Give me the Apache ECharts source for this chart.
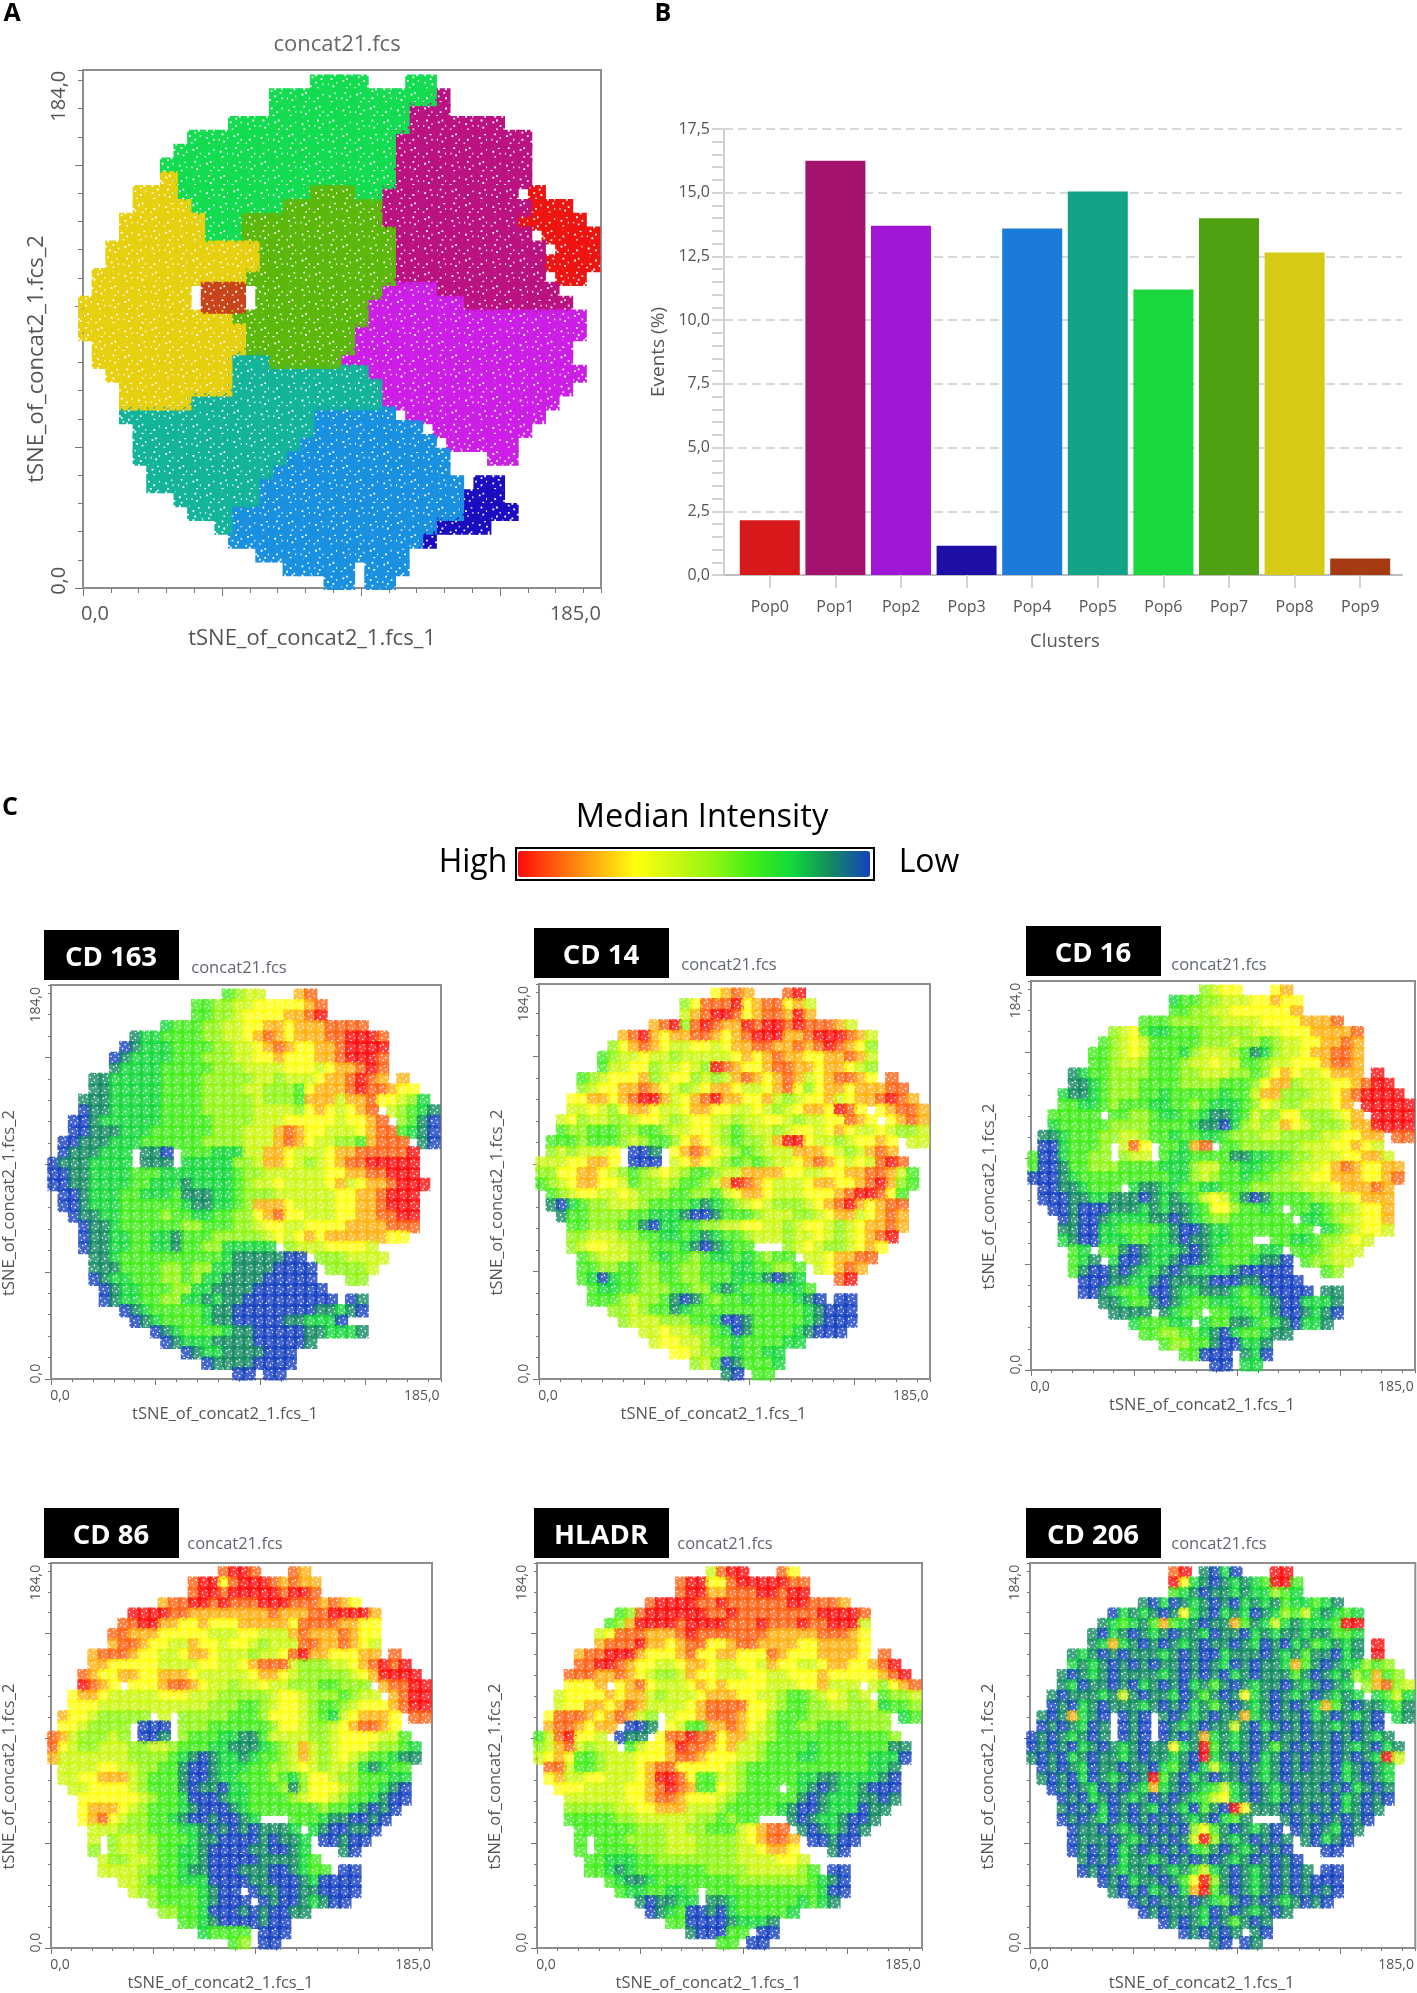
<!DOCTYPE html>
<html>
<head>
<meta charset="utf-8">
<title>tSNE clusters</title>
<script src="https://cdn.jsdelivr.net/npm/echarts@6/dist/echarts.min.js"></script>
<style>
  html, body { margin: 0; padding: 0; background: #fff; }
  #chart { width: 1417px; height: 1993px; }
</style>
</head>
<body>
<div id="chart"></div>
<script>
// bar chart values
const clusters = ['Pop0', 'Pop1', 'Pop2', 'Pop3', 'Pop4', 'Pop5', 'Pop6', 'Pop7', 'Pop8', 'Pop9'];
const events = [2.15, 16.25, 13.7, 1.15, 13.6, 15.05, 11.2, 14.0, 12.65, 0.65];
const barColors = ['#d7191b', '#a3136d', '#a216d8', '#1d0fa5', '#1a7bd8', '#13a386', '#19d73c', '#50a111', '#d6ca14', '#a63a12'];
const cloudColors = ['#ee1410', '#bb1282', '#cc1ee6', '#1a0cc0', '#1a90e0', '#14b49a', '#14dc50', '#5cb80c', '#e6d010', '#c8441a'];

// tSNE maps, one cell is 5 x 5 axis units, top row first.
// panel A: digit = population number
const popRows = [
  '.................6666...66',
  '..............6666666666661',
  '..............6666666666111',
  '...........66666666666661111111',
  '........6666666666666661111111111',
  '.......66666666666666661111111111',
  '......666666666666666661111111111',
  '......866666666666666661111111111',
  '....8886666666666777661111111111.0',
  '....88886666666777777711111111111000',
  '...8888886667777777777111111111100000',
  '...888888666777777777771111111111.00000',
  '..88888888888777777777711111111111.0000',
  '..888888888887777777777111111111110000',
  '.888888888887777777777711111111111.00',
  '.8888888.999.7777777772222111111111',
  '88888888.999.77777777222222211111111',
  '8888888888877777777772222222222222222',
  '8888888888887777777722222222222222222',
  '.88888888888777777772222222222222222',
  '.88888888885557777722222222222222222',
  '..88888888855555555552222222222222222',
  '...888888885555555555522222222222222',
  '...88888555555555555552222222222222',
  '...55555555555555444444.2222222222',
  '....555555555555544444444.2222222',
  '....5555555555554444444444.22222',
  '....55555555555444444444444...22',
  '.....5555555554444444444444',
  '.....55555555444444444444444.33',
  '.......555555444444444444444333',
  '........555444444444444444443333',
  '..........54444444444444443333',
  '...........444444444444443',
  '.............44444444444',
  '...............44444.444',
  '..................44.44'
];

// panels C: digit = median intensity, 0 low to 9 high
const cd163Rows = [
  '.................3455...78',
  '..............3344556666678',
  '..............3344566667789',
  '...........23334455667767778888',
  '........1223333445567876777889998',
  '.......01222333344556787667789999',
  '......012222333444556676667789998',
  '......122223333344455556665677898',
  '....11222223333444445545556778987.7',
  '....11222223333444455444367778988766',
  '...1112222233334444454443777577866542',
  '...01122222333344444555546765678.54321',
  '..0012222223333344445556666656678.4310',
  '..001112223333334445557876655567883210',
  '.0011122233333344445557876554437888.10',
  '.0111222.110.33322255776555677888889',
  '01112222.111.22222445776545678899999',
  '001122223332222222344555555667788999',
  '0011222233222122223455655556756778999',
  '.00122233222311122344455555566778999',
  '.00122233333321122347776555566778999',
  '..0112233334332233446786655566778899',
  '...011233333344333445665566667777888',
  '...01122332213334444456567677777766',
  '...0112233221334422222.455566665',
  '....112333333333321111100.4445555',
  '....1113333443442211110000.44445',
  '....0122333443422111100000...44',
  '.....0122333442211110000000',
  '.....01223344221211000000000.01',
  '.......012333332110000000011210',
  '........012333321100000112220',
  '..........012333321100000112221',
  '...........012221111000001',
  '.............01221111000',
  '...............011110000',
  '..................00.00'
];

const cd14Rows = [
  '.................6787...89',
  '..............4688896788675',
  '..............5789986788797',
  '...........78948987798998988875',
  '........7897677887678999778999875',
  '.......46787655665677887787898764',
  '......345565545555567678776677875',
  '......355664556549876678877677654',
  '....34566674566454578767875678876.8',
  '....45667787654567765567864677677788',
  '...6677678997567897766754566756778987',
  '...55654677655677665565456776986.67887',
  '..5645544566545665545566545566876.6787',
  '..344333443345566543455456656765565445',
  '.3334333454334676543445799655456676.55',
  '.4545556.001.6787654345557776545787',
  '55566776.000.56765434345567876565898',
  '4466776543456543345577776655667788753',
  '3456776653445433457987655567766789743',
  '.34566556544433443567765556667899863',
  '.10234455543333212345654445678976788',
  '..1334444332221001333455544567756787',
  '...334443310223344556655456654567787',
  '...44555443322321233455545565456789',
  '...456655443332101233...4565445676',
  '....345554432334322323433.5567788',
  '....3344334433443332233443.56787',
  '....3202334433443332221012...89',
  '.....3223344433442123332223',
  '.....33345443101343323333210.00',
  '.......445433123333333333321000',
  '........45554443320013333321000',
  '..........55655443201333321000',
  '...........566554332333322',
  '.............66544323322',
  '...............453013332',
  '..................10.33'
];

const cd16Rows = [
  '.................4566...67',
  '..............2334455566766',
  '..............3344556666667',
  '...........33344444555566667778',
  '........4563223334444455566677778',
  '.......34565333334445443455667787',
  '......334565333245554312455677887',
  '......334554333455655334556667887',
  '....12334444333445554434676556777.9',
  '....11234443333444433346774555667899',
  '...2112344433233333233577444556789999',
  '...33223433322334322234654455567.99999',
  '..33333.3344322332112354466444567.9999',
  '..233333444433332110245457654445779999',
  '.1123334455433233223444554444556677.88',
  '.0023334.586.33278.3344444455566765',
  '30023344.455.32233331122334455566775',
  '3001334443333222455332233445567876677',
  '0001233333333322454332334455667776678',
  '.00112333.21122332233344444555677787',
  '.00011221110121235653101333344556777',
  '..00100011121211236643323.3323445667',
  '...01001222211012344333333.223455667',
  '...1100223333210012233333333.2345665',
  '...2100222332210112233..3322344565',
  '....32.331012221012333322.3334555',
  '....321.200122100123332110.34455',
  '....3100101221012222100000...34',
  '.....0001122101111000110000',
  '.....00123320012211123210000.11',
  '.......112331012332223321002221',
  '........1111.1233.3322321001210',
  '..........233322.2331123210221',
  '...........334433210233211',
  '.............34433100221',
  '...............33000.120',
  '..................00.22'
];

const cd86Rows = [
  '.................8998...87',
  '..............8996899987877',
  '..............8998999998998',
  '...........78899898889998887876',
  '........9999887777777787778899997',
  '.......88997766766677777688887766',
  '......887776666655566555787778766',
  '......788766557665665455588778765',
  '....78887665567765554556897766677.8',
  '....77666665555665567888544455678989',
  '...8766776677765555567765444445679999',
  '...9876.666788765545565544433444.78899',
  '..6776555556665554444456654443455.7899',
  '..666555555555554443345665433456667899',
  '.766544444.5.4444433346665432567776.88',
  '.6654444.000.4443333334665445678876',
  '87544454.001.43332211355554456666553',
  '8654455544554333221112345754566654432',
  '7555555544443210122123345754565433211',
  '.55556655443310012223344565455421233',
  '.55667775433310012233343246654433322',
  '..5566665433310110223334146665433210',
  '...666666543320001223333456654332100',
  '...67776543332100012333333343321010',
  '...678654433210010012...3332110010',
  '....555444333221010101112.2100110',
  '....5.45544333211000010112.00100',
  '....4.45544332210000110012...10',
  '.....5445543322100000111123',
  '.....55554433211000111001233.00',
  '.......554333222000011000120000',
  '........54433332100.01100110000',
  '..........4333321000.010012100',
  '...........443320001010011',
  '.............33210000100',
  '...............23333.000',
  '..................34.00'
];

const hladrRows = [
  '.................5899...86',
  '..............8996689999988',
  '..............8997788899899',
  '...........89999889888888998887',
  '........3489999998898888888899998',
  '.......34799998999988898889889995',
  '......568887778988888887777788876',
  '......788897767886678877776677776',
  '....78899976667866776668766677776.8',
  '....88998766556776556657665567766789',
  '...8887787654457665556655666766666789',
  '...6667.678655567676666555667555.54678',
  '..5666676775455567776655433456545.3445',
  '..566776787555567888866543344554452334',
  '.68887678754.5667888766433344444444.23',
  '.7887677.001.6533778765433443334444',
  '3589665.011.688988677554333333333334',
  '45785455.3566798876755433332333333311',
  '5676334555666788766655433322333332220',
  '.88533455567886666654333333333333221',
  '.67556655567998633554333332211222210',
  '..6665555667898733654333.32101221000',
  '...555555667887666543333331012221101',
  '...44444556677755543333321001222011',
  '...3333344555555443433...101221001',
  '....333333444554433356788.1012101',
  '....3.33344445554444567887.00100',
  '....3.33334445554444556776...10',
  '.....3322233444444445555665',
  '.....33212333333344445555543.00',
  '.......321123333333344444443210',
  '........32233223.33333333333200',
  '..........101122.1123333332321',
  '...........012300102333332',
  '.............33000012221',
  '...............100033.00',
  '..................33.00'
];

const cd206Rows = [
  '..............89.1020...99',
  '..............9621012123993',
  '..............3210112122432',
  '...........10201210102121322321',
  '........0212101621021201243521232',
  '.......12321373210117312521222399',
  '......102101210112011021211211332',
  '......127210101210110120102132121.9',
  '....12101011121010021110121311021.9',
  '....21210101011010120101127310122434',
  '...1012101111210101021011131012143734',
  '...12011010210102131012110121012.47845',
  '..1011121510112013101621012101212.2352',
  '..010210111210102131012101012731011231',
  '.1017210.010.1012101172101102101210.21',
  '.0101201.010.0121011510210101121010',
  '01012101.010.01017212101011011010121',
  '0101021012101162193121013101010121021',
  '1010210112101121092101021010110101295',
  '.01012011011023102521012101011021012',
  '.10102012101931021011012101111021012',
  '..0101201012721012352101210110102101',
  '...010210121010123562101210111021010',
  '...10102010120120310961110110102101',
  '...0101201010101210231...101101010',
  '....011012101010463101210.0101201',
  '....0111012101015941210101.10210',
  '....0101021010102310121010...00',
  '.....1010211210101012101010',
  '.....01012110121352101210101.00',
  '.......010211013694101210101000',
  '........10102102793101210101010',
  '..........01011101231010121010',
  '...........010111201012101',
  '.............01012013101',
  '...............010101.10',
  '..................10.01'
];

const xTickLabels = ['0,0', '185,0'];
const yTickLabels = ['0,0', '184,0'];
const majorTicks = [0, 51, 102, 153];
const intensityColors = ['#1540c0', '#128a60', '#12d83a', '#40ee18', '#90f510', '#ccf810', '#ffff10', '#ffb010', '#ff6010', '#ff0a0a'];

// speckled marker shapes, # is ink, . is a hole, so the clouds stay grainy
const speckles = [
  ['.###.###.#', '##########', '#####.####', '###.######', '##########', '.######.##', '#.########', '#####.###.', '##.#######', '####.###.#'],
  ['#.####.###', '##########', '####.#####', '.#########', '#######.##', '##.#######', '#####.####', '##########', '.###.####.', '#.######.#'],
  ['###.###.##', '#.########', '######.###', '##########', '###.######', '#######.##', '.#########', '####.#####', '########.#', '.##.####.#'],
  ['.#####.##.', '####.#####', '##########', '#.#####.##', '##########', '####.#####', '#########.', '##.#######', '######.###', '#.###.####']
].map(pattern => {
  let d = '';
  pattern.forEach((line, y) => {
    line.replace(/#+/g, (run, x) => {
      d += 'M' + x + ' ' + y + 'h' + run.length + 'v1h-' + run.length + 'z';
    });
  });
  return 'path://' + d;
});
const speckleOf = v => speckles[(Math.round(v[0]) * 3 + Math.round(v[1]) * 7) % 4];

// turn a block of rows into [x, y, digit] points
function cellsOf(rows) {
  const cells = [];
  rows.forEach((row, r) => {
    row.split('').forEach((ch, c) => {
      if (ch >= '0' && ch <= '9') cells.push([1.5 + 5 * c, 182.5 - 5 * r, +ch]);
    });
  });
  return cells;
}

const grids = [];
const xAxes = [];
const yAxes = [];
const series = [];
const art = [];
const FONT = '"Open Sans", "Noto Sans", sans-serif';

// one framed tSNE panel, returns the x/y axis index the marks should use
function addPanel(box, fontSize, nameSize, labelGap, nameGapX, nameGapY, shift) {
  const g = grids.length;
  grids.push({
    left: box[0], top: box[1], width: box[2] - box[0], height: box[3] - box[1],
    show: true, borderColor: '#8e8e8e', borderWidth: 2, backgroundColor: '#fff'
  });
  const label = { fontSize: fontSize, fontFamily: FONT, color: '#555' };
  const smallTicks = {
    show: true, length: fontSize > 16 ? 5 : 3, lineStyle: { color: '#777', width: 1 }
  };
  const bigTicks = {
    show: true, length: fontSize > 16 ? 8 : 6, customValues: majorTicks, lineStyle: { color: '#777', width: 1 }
  };
  xAxes.push({
    gridIndex: g, type: 'value', position: 'bottom', min: 0, max: 190, interval: 10.2,
    axisLine: { show: false }, axisTick: smallTicks, axisLabel: { show: false }, splitLine: { show: false }
  });
  const xIndex = xAxes.length;
  xAxes.push({
    gridIndex: g, type: 'value', position: 'bottom', min: 0, max: 190,
    axisLine: { show: false }, axisTick: bigTicks, splitLine: { show: false },
    axisLabel: {
      customValues: [0, 185], margin: labelGap, ...label,
      formatter: v => (v === 0 ? '{lo|' + xTickLabels[0] + '}' : '{hi|' + xTickLabels[1] + '}'),
      rich: {
        lo: { ...label, padding: [0, 0, 0, shift] },
        hi: { ...label, padding: [0, shift, 0, 0] }
      }
    },
    name: 'tSNE_of_concat2_1.fcs_1', nameLocation: 'center', nameGap: nameGapX,
    nameTextStyle: { ...label, fontSize: nameSize, padding: [0, fontSize * 3, 0, 0] }
  });
  yAxes.push({
    gridIndex: g, type: 'value', position: 'left', min: 0, max: 187.4, interval: 10.2,
    axisLine: { show: false }, axisTick: smallTicks, axisLabel: { show: false }, splitLine: { show: false }
  });
  const yIndex = yAxes.length;
  yAxes.push({
    gridIndex: g, type: 'value', position: 'left', min: 0, max: 187.4,
    axisLine: { show: false }, axisTick: bigTicks, splitLine: { show: false },
    axisLabel: {
      customValues: [0, 184], margin: labelGap - 2, rotate: 90, ...label,
      formatter: v => (v === 0 ? '{lo|' + yTickLabels[0] + '}' : '{hi|' + yTickLabels[1] + '}'),
      rich: {
        lo: { ...label, padding: [0, 0, 0, shift * 0.6] },
        hi: { ...label, padding: [0, shift * 1.4, 0, 0] }
      }
    },
    name: 'tSNE_of_concat2_1.fcs_2', nameLocation: 'center', nameGap: nameGapY,
    nameTextStyle: { ...label, fontSize: nameSize, padding: [0, fontSize * 3, 0, 0] }
  });
  return { xAxisIndex: xIndex, yAxisIndex: yIndex };
}

function addText(text, x, y, size, color, weight) {
  art.push({
    type: 'text', x: x, y: y, z: 20,
    style: {
      text: text, fill: color, align: 'center', verticalAlign: 'middle',
      fontSize: size, fontWeight: weight || 'normal', fontFamily: FONT
    }
  });
}

// panel A
const panelA = addPanel([83, 70, 601, 588], 20, 22, 16, 40, 34, 24);
const popCells = cellsOf(popRows);
clusters.forEach((name, i) => {
  series.push({
    name: name, type: 'scatter', ...panelA, symbol: speckleOf, symbolSize: 18, silent: true,
    itemStyle: { color: cloudColors[i], opacity: 1 },
    data: popCells.filter(p => p[2] === i)
  });
});
addText('concat21.fcs', 337, 45, 22, '#666');

// panel B, first grid carries the frame lines, second one the bars
grids.push({ left: 724, top: 129, right: 15, height: 446 });
xAxes.push({
  gridIndex: grids.length - 1, type: 'value', position: 'bottom', min: 0, max: 1,
  axisLine: { show: true, onZero: false, lineStyle: { color: '#bdbdbd', width: 2 } },
  axisTick: { show: false }, axisLabel: { show: false }, splitLine: { show: false }
});
yAxes.push({
  gridIndex: grids.length - 1, type: 'value', position: 'left', min: 0, max: 17.5, interval: 2.5,
  axisLine: { show: true, lineStyle: { color: '#cfcfcf', width: 2 } },
  axisTick: { show: true, length: 12, lineStyle: { color: '#d4d4d4', width: 2 } },
  minorTick: { show: true, splitNumber: 5, length: 12, lineStyle: { color: '#d4d4d4', width: 2 } },
  splitLine: { show: true, lineStyle: { color: '#d8d8d8', type: [9, 5], width: 2 } },
  axisLabel: { fontSize: 16, fontFamily: FONT, color: '#555', margin: 14, formatter: v => v.toFixed(1).replace('.', ',') },
  name: 'Events (%)', nameLocation: 'center', nameGap: 56,
  nameTextStyle: { fontSize: 19, fontFamily: FONT, color: '#555' }
});
grids.push({ left: 737, top: 129, width: 656, height: 446 });
const barGrid = grids.length - 1;
xAxes.push({
  gridIndex: barGrid, type: 'category', position: 'bottom', data: clusters,
  axisLine: { show: false },
  axisTick: { show: true, alignWithLabel: true, length: 13, lineStyle: { color: '#d4d4d4', width: 2 } },
  axisLabel: { fontSize: 16, fontFamily: FONT, color: '#555', margin: 24 },
  name: 'Clusters', nameLocation: 'center', nameGap: 57,
  nameTextStyle: { fontSize: 18.5, fontFamily: FONT, color: '#555' }
});
yAxes.push({
  gridIndex: barGrid, type: 'value', position: 'left', min: 0, max: 17.5,
  axisLine: { show: false }, axisTick: { show: false }, axisLabel: { show: false }, splitLine: { show: false }
});
series.push({
  name: 'Events', type: 'bar', xAxisIndex: xAxes.length - 1, yAxisIndex: yAxes.length - 1, barWidth: 60,
  data: events.map((v, i) => ({ value: v, itemStyle: { color: barColors[i] } })), z: 5
});

// panels C
const heatPanels = [
  { name: 'CD 163', rows: cd163Rows, box: [48, 985, 441, 1379], tag: [44, 930], file: [239, 968] },
  { name: 'CD 14', rows: cd14Rows, box: [539, 984, 930, 1379], tag: [534, 928], file: [729, 965] },
  { name: 'CD 16', rows: cd16Rows, box: [1031, 981, 1415, 1370], tag: [1026, 926], file: [1219, 965] },
  { name: 'CD 86', rows: cd86Rows, box: [46, 1563, 432, 1948], tag: [44, 1508], file: [235, 1544] },
  { name: 'HLADR', rows: hladrRows, box: [537, 1563, 922, 1948], tag: [534, 1508], file: [725, 1544] },
  { name: 'CD 206', rows: cd206Rows, box: [1030, 1563, 1416, 1948], tag: [1026, 1508], file: [1219, 1544] }
];
const heatSeries = [];
heatPanels.forEach(p => {
  const axes = addPanel(p.box, 14, 16.5, 10, 27, 33, 18);
  heatSeries.push(series.length);
  series.push({
    name: p.name, type: 'scatter', ...axes, symbol: speckleOf, symbolSize: 13.5, silent: true,
    data: cellsOf(p.rows)
  });
  art.push({ type: 'rect', z: 20, shape: { x: p.tag[0], y: p.tag[1], width: 135, height: 50 }, style: { fill: '#000' } });
  addText(p.name, p.tag[0] + 67, p.tag[1] + 28, 27.5, '#fff', 'bold');
  addText('concat21.fcs', p.file[0], p.file[1], 16.5, '#5f6670');
});

// headings and legend frame
addText('A', 12, 14, 25, '#000', 'bold');
addText('B', 663, 14, 25, '#000', 'bold');
addText('C', 10, 808, 25, '#000', 'bold');
addText('Median Intensity', 702, 818, 32.5, '#000');
addText('High', 473, 863, 32, '#000');
addText('Low', 929, 863, 32, '#000');
art.push({
  type: 'rect', z: 20, shape: { x: 516, y: 848, width: 358, height: 32 },
  style: { fill: 'none', stroke: '#000', lineWidth: 2 }
});

const chart = echarts.init(document.getElementById('chart'));
chart.setOption({
  animation: false,
  backgroundColor: '#fff',
  grid: grids,
  xAxis: xAxes,
  yAxis: yAxes,
  graphic: art,
  visualMap: {
    type: 'continuous', min: 0, max: 9, dimension: 2, seriesIndex: heatSeries,
    orient: 'horizontal', inverse: true, calculable: false, showLabel: false, text: null,
    left: 503, top: 836, itemWidth: 26, itemHeight: 352,
    inRange: { color: intensityColors }
  },
  series: series
});
</script>
</body>
</html>
